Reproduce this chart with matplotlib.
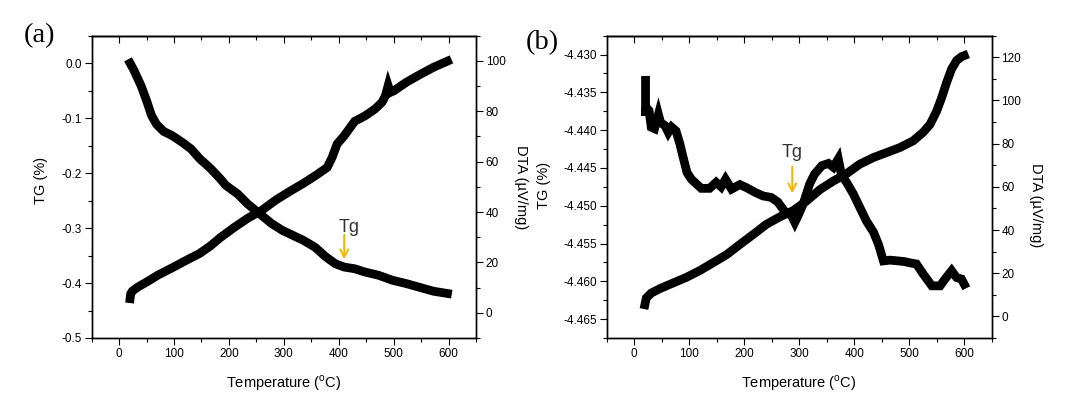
import matplotlib
matplotlib.use('Agg')
import matplotlib.pyplot as plt
from matplotlib.ticker import MultipleLocator, FormatStrFormatter

plt.rcParams['font.family'] = ['Liberation Sans', 'DejaVu Sans']
plt.rcParams['mathtext.fontset'] = 'custom'
plt.rcParams['mathtext.rm'] = 'Liberation Sans'
plt.rcParams['axes.unicode_minus'] = False

# panel (a)
a_tg_x = [20, 27, 40, 50, 59, 68, 81, 97, 115, 131, 147, 166, 184, 194, 216, 234,
          256, 278, 297, 316, 335, 357, 376, 394, 410, 429, 448, 473, 498, 523, 548, 573, 598]
a_tg_y = [0.0, -0.013, -0.041, -0.068, -0.095, -0.111, -0.124, -0.132, -0.144, -0.156,
          -0.174, -0.191, -0.210, -0.222, -0.238, -0.256, -0.274, -0.292, -0.304, -0.313,
          -0.322, -0.335, -0.352, -0.365, -0.371, -0.374, -0.380, -0.386, -0.395, -0.401,
          -0.408, -0.415, -0.419]
a_dta_x = [20, 21, 24, 34, 53, 71, 97, 122, 147, 166, 184, 209, 234, 260, 285, 310, 335,
           360, 379, 388, 397, 410, 429, 448, 466, 479, 485, 490, 494, 501, 523, 548, 573, 598]
a_dta_y = [5.6, 7.5, 8.6, 10.2, 12.6, 15.0, 17.9, 20.8, 23.6, 26.5, 29.8, 33.8, 37.5, 40.7,
           44.7, 48.1, 51.3, 54.8, 57.7, 61.7, 67.0, 70.3, 76.0, 78.2, 80.9, 83.6, 86.2,
           90.2, 87.5, 88.2, 91.5, 94.6, 97.5, 99.9]

# panel (b)
b_tg_x = [20.6, 20.6, 22, 27, 31, 37, 44, 48, 56, 62, 68, 76, 83, 89, 96, 104, 113, 122,
          137, 149, 158, 166, 177, 192, 204, 219, 234, 249, 261, 273, 286, 292, 298, 307,
          319, 328, 341, 353, 362, 371, 377, 386, 398, 410, 422, 435, 444, 453, 465, 480,
          492, 504, 513, 525, 541, 556, 565, 577, 586, 595, 600]
b_tg_y = [-4.4334, -4.4381, -4.4370, -4.4374, -4.4396, -4.4398, -4.4379, -4.4390, -4.4394,
          -4.4403, -4.4396, -4.4401, -4.4418, -4.4436, -4.4456, -4.4465, -4.4471, -4.4477,
          -4.4477, -4.4469, -4.4475, -4.4465, -4.4478, -4.4472, -4.4476, -4.4482, -4.4487,
          -4.4489, -4.4495, -4.4507, -4.4513, -4.4522, -4.4513, -4.4498, -4.4471, -4.4458,
          -4.4447, -4.4444, -4.4449, -4.4438, -4.4460, -4.4469, -4.4484, -4.4502, -4.4520,
          -4.4535, -4.4551, -4.4573, -4.4572, -4.4573, -4.4574, -4.4576, -4.4577, -4.4590,
          -4.4606, -4.4606, -4.4597, -4.4586, -4.4595, -4.4597, -4.4604]
b_dta_x = [19.4, 22, 31, 47, 71, 95, 119, 143, 168, 192, 216, 240, 264, 289, 313, 338, 362,
           386, 410, 435, 459, 483, 507, 525, 538, 550, 559, 568, 577, 586, 595, 600]
b_dta_y = [5.4, 8.5, 10.8, 12.9, 15.5, 18.1, 21.2, 24.8, 28.6, 33.3, 37.9, 42.6, 46.0, 49.0,
           53.4, 58.8, 62.7, 66.1, 70.5, 73.6, 75.9, 78.2, 81.3, 85.2, 89.0, 95.2, 101.4,
           108.4, 114.6, 118.5, 120.3, 120.8]

tick_fs = 8.5
label_fs = 10.5
arrow_col = '#F5B400'
xlabel = r'Temperature ($^{\rm o}$C)'
dta_label = 'DTA (\u00b5V/mg)'

fig = plt.figure(figsize=(10.67, 3.99), dpi=100)
ax1 = fig.add_axes([0.0859, 0.1529, 0.3602, 0.7576])
ax2 = fig.add_axes([0.5686, 0.1529, 0.3609, 0.7576])
ax1r = ax1.twinx()
ax2r = ax2.twinx()

line_kw = dict(color='black', lw=6.3, solid_capstyle='projecting', solid_joinstyle='miter')
ax1.plot(a_tg_x, a_tg_y, **line_kw)
ax1r.plot(a_dta_x, a_dta_y, **line_kw)
ax2.plot(b_tg_x, b_tg_y, **line_kw)
ax2r.plot(b_dta_x, b_dta_y, **line_kw)

ax1.set_ylim(-0.5, 0.05)
ax1r.set_ylim(-10, 110)
ax2.set_ylim(-4.4675, -4.4275)
ax2r.set_ylim(-10, 130)

ax1.yaxis.set_major_locator(MultipleLocator(0.1))
ax1.yaxis.set_minor_locator(MultipleLocator(0.05))
ax1.yaxis.set_major_formatter(FormatStrFormatter('%.1f'))
ax2.yaxis.set_major_locator(MultipleLocator(0.005))
ax2.yaxis.set_minor_locator(MultipleLocator(0.0025))
ax2.yaxis.set_major_formatter(FormatStrFormatter('%.3f'))
for axr in (ax1r, ax2r):
    axr.yaxis.set_major_locator(MultipleLocator(20))
    axr.yaxis.set_minor_locator(MultipleLocator(10))

for ax, axr in ((ax1, ax1r), (ax2, ax2r)):
    ax.set_xlim(-50, 650)
    ax.xaxis.set_major_locator(MultipleLocator(100))
    ax.xaxis.set_minor_locator(MultipleLocator(50))
    for a in (ax, axr):
        a.tick_params(which='major', direction='out', length=5, width=0.8,
                      labelsize=tick_fs, pad=2)
        a.tick_params(which='minor', direction='out', length=3, width=0.8)
        for s in a.spines.values():
            s.set_linewidth(1.0)
    ax.tick_params(axis='x', which='both', top=False)
    top = ax.secondary_xaxis('top')
    top.xaxis.set_major_locator(MultipleLocator(100))
    top.xaxis.set_minor_locator(MultipleLocator(50))
    top.tick_params(which='major', direction='in', length=5, width=0.8, labeltop=False)
    top.tick_params(which='minor', direction='in', length=3, width=0.8)
    top.spines['top'].set_linewidth(1.0)
    ax.set_xlabel(xlabel, fontsize=label_fs, labelpad=10)

ax1.set_ylabel('TG (%)', fontsize=label_fs, ha='center', va='center')
ax1.yaxis.set_label_coords(-0.133, 0.52)
ax1r.set_ylabel(dta_label, fontsize=label_fs, rotation=270, ha='center', va='center')
ax1r.yaxis.set_label_coords(1.117, 0.5)
ax2.set_ylabel('TG (%)', fontsize=label_fs, ha='center', va='center')
ax2.yaxis.set_label_coords(-0.163, 0.506)
ax2r.set_ylabel(dta_label, fontsize=label_fs, rotation=270, ha='center', va='center')
ax2r.yaxis.set_label_coords(1.115, 0.44)

# Tg markers
ax1.text(419.5, -0.307, 'Tg', fontsize=13, color='#333333', ha='center', va='baseline')
ax1.annotate('', xy=(410, -0.357), xytext=(410, -0.312),
             arrowprops=dict(arrowstyle='->', color=arrow_col, lw=1.4,
                             mutation_scale=14, shrinkA=0, shrinkB=0))
ax2.text(287.6, -4.44358, 'Tg', fontsize=13, color='#333333', ha='center', va='baseline')
ax2.annotate('', xy=(287.3, -4.44835), xytext=(287.3, -4.44480),
             arrowprops=dict(arrowstyle='->', color=arrow_col, lw=1.4,
                             mutation_scale=14, shrinkA=0, shrinkB=0))

fig.text(0.0366, 0.912, '(a)', fontsize=20.5, family='Liberation Serif', ha='center', va='center')
fig.text(0.5085, 0.892, '(b)', fontsize=20.5, family='Liberation Serif', ha='center', va='center')

fig.savefig('out.png', dpi=100)
